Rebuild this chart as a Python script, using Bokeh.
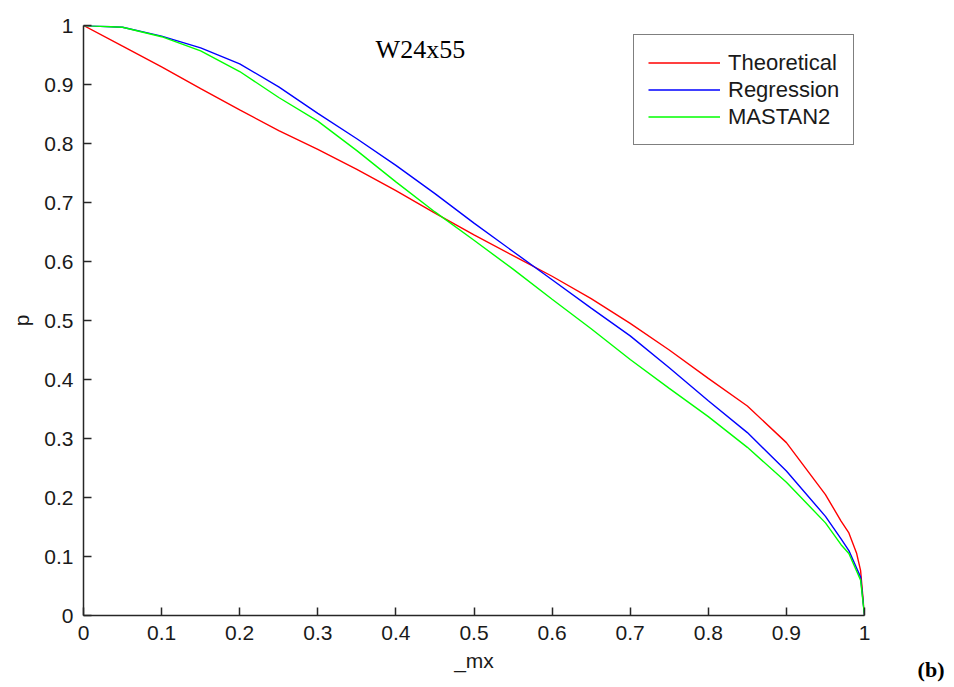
from bokeh.plotting import figure
from bokeh.models import Range1d, FixedTicker, Label, Legend, LegendItem, Title
from bokeh.embed import file_html
from bokeh.resources import INLINE

# ---- data ----
mx = [0.0, 0.05, 0.1, 0.15, 0.2, 0.25, 0.3, 0.35, 0.4, 0.45, 0.5, 0.55, 0.6,
      0.65, 0.7, 0.75, 0.8, 0.85, 0.9, 0.95, 0.97, 0.98, 0.99, 0.995, 1.0]
theoretical = [1.0, 0.965, 0.93, 0.893, 0.857, 0.822, 0.79, 0.756, 0.72, 0.682,
               0.645, 0.61, 0.575, 0.537, 0.495, 0.45, 0.402, 0.355, 0.293,
               0.205, 0.16, 0.14, 0.105, 0.076, 0.0]
regression = [1.0, 0.997, 0.982, 0.962, 0.935, 0.896, 0.851, 0.808, 0.763,
              0.715, 0.665, 0.617, 0.569, 0.521, 0.474, 0.42, 0.364, 0.31,
              0.245, 0.168, 0.13, 0.11, 0.08, 0.065, 0.0]
mastan2 = [1.0, 0.997, 0.981, 0.957, 0.922, 0.878, 0.838, 0.788, 0.735, 0.684,
           0.636, 0.587, 0.536, 0.486, 0.434, 0.385, 0.337, 0.285, 0.226,
           0.157, 0.12, 0.105, 0.075, 0.06, 0.0]
ticks = [0.0, 0.1, 0.2, 0.3, 0.4, 0.5, 0.6, 0.7, 0.8, 0.9, 1.0]
tick_labels = ["0", "0.1", "0.2", "0.3", "0.4", "0.5", "0.6", "0.7", "0.8", "0.9", "1"]
series_names = ["Theoretical", "Regression", "MASTAN2"]
series_colors = ["#ff0000", "#0000ff", "#00ff00"]
title_text = "W24x55"
panel_text = "(b)"

p = figure(width=954, height=687, output_backend="svg", toolbar_location=None,
           x_range=Range1d(0, 1), y_range=Range1d(0, 1),
           min_border_left=83, min_border_top=25, min_border_right=90,
           min_border_bottom=72)
p.outline_line_color = None
p.xgrid.grid_line_color = None
p.ygrid.grid_line_color = None
p.background_fill_color = "white"
p.border_fill_color = "white"

overrides = {t: l for t, l in zip(ticks, tick_labels)}
for ax in (p.xaxis, p.yaxis):
    ax.ticker = FixedTicker(ticks=ticks)
    ax.major_label_overrides = overrides
    ax.major_tick_in = 8
    ax.major_tick_out = 0
    ax.minor_tick_line_color = None
    ax.axis_line_color = "#262626"
    ax.axis_line_width = 1.5
    ax.major_tick_line_color = "#262626"
    ax.major_tick_line_width = 1.5
    ax.major_label_text_font = "Liberation Sans"
    ax.major_label_text_font_size = "21px"
    ax.major_label_text_color = "#1a1a1a"
    ax.major_label_standoff = 10
    ax.axis_label_text_font = "Liberation Sans"
    ax.axis_label_text_font_size = "21px"
    ax.axis_label_text_font_style = "normal"
    ax.axis_label_text_color = "#1a1a1a"

p.xaxis.axis_label = "_mx"
p.yaxis.axis_label = "p"
p.xaxis.axis_label_standoff = 6
p.yaxis.axis_label_standoff = 8

renderers = []
for ys, c in zip([theoretical, regression, mastan2], series_colors):
    r = p.line(mx, ys, line_color=c, line_width=1.4)
    renderers.append(r)

legend = Legend(items=[LegendItem(label=n, renderers=[r]) for n, r in zip(series_names, renderers)],
                location=(550, 470), margin=0, padding=14, spacing=0,
                glyph_width=72, glyph_height=27, label_height=27,
                label_standoff=8, border_line_color="black", border_line_width=1.2,
                background_fill_color="white", background_fill_alpha=1.0,
                label_text_font="Liberation Sans", label_text_font_size="22px",
                label_text_color="#1a1a1a")
p.add_layout(legend)

p.add_layout(Label(x=0.374, y=0.959, text=title_text, text_font="Liberation Serif",
                   text_font_size="26px", text_color="black",
                   text_baseline="alphabetic", text_align="left"))

panel_title = Title(text=panel_text, align="right", vertical_align="top",
                    offset=-80, standoff=-36,
                    text_font="Liberation Serif", text_font_size="22px",
                    text_font_style="bold", text_color="black")
p.add_layout(panel_title, "below")

open("out.html", "w").write(file_html(p, INLINE))
